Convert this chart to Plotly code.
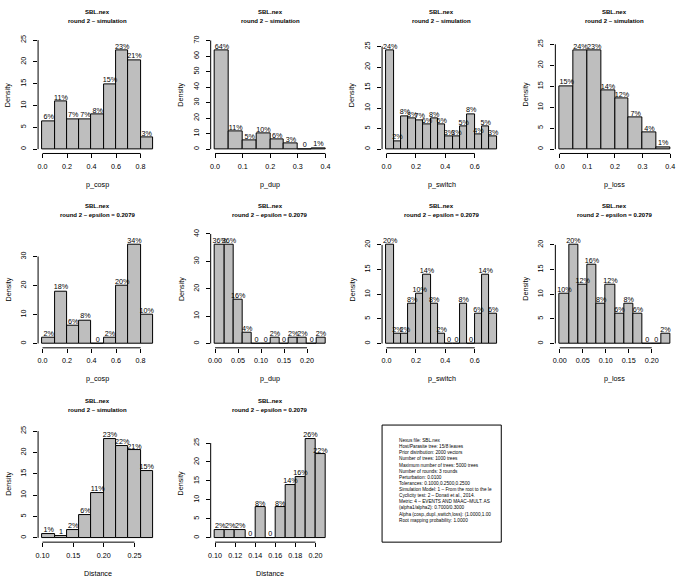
import plotly.graph_objects as go

W, H = 684, 585
FONT = "Liberation Sans, Arial, sans-serif"
bar_gray = '#BEBEBE'

# ---- data (bar heights in %, labels as printed) ----
cosp_breaks = [0.0, 0.1, 0.2, 0.3, 0.4, 0.5, 0.6, 0.7, 0.8, 0.9]
cosp_sim = [6.4, 10.9, 6.9, 6.9, 7.9, 14.9, 22.6, 20.4, 2.6]
cosp_sim_lbl = ['6%', '11%', '7%', '7%', '8%', '15%', '23%', '21%', '3%']
cosp_eps = [2, 18, 6, 8, 0, 2, 20, 34, 10]
cosp_eps_lbl = ['2%', '18%', '6%', '8%', '0', '2%', '20%', '34%', '10%']

dup_sim_breaks = [0.0, 0.05, 0.1, 0.15, 0.2, 0.25, 0.3, 0.35, 0.4]
dup_sim = [63.5, 11.3, 5.4, 10.2, 6.1, 3.4, 0, 0.6]
dup_sim_lbl = ['64%', '11%', '5%', '10%', '6%', '3%', '0', '1%']

switch_breaks = [0.0, 0.05, 0.1, 0.15, 0.2, 0.25, 0.3, 0.35, 0.4, 0.45, 0.5,
                 0.55, 0.6, 0.65, 0.7, 0.75]
switch_sim = [24, 2, 8, 7.5, 7.1, 6, 7.5, 6, 3, 3, 5.5, 8.5, 3.5, 5.5, 3]
switch_sim_lbl = ['24%', '2%', '8%', '8%', '7%', '6%', '8%', '6%', '3%', '3%',
                  '5%', '8%', '4%', '5%', '3%']
switch_eps = [20, 2, 2, 8, 10, 14, 8, 2, 0, 0, 8, 0, 6, 14, 6]
switch_eps_lbl = ['20%', '2%', '2%', '8%', '10%', '14%', '8%', '2%', '0', '0',
                  '8%', '0', '6%', '14%', '6%']

loss_sim_breaks = [0.0, 0.05, 0.1, 0.15, 0.2, 0.25, 0.3, 0.35, 0.4]
loss_sim = [15, 23.5, 23.5, 14, 12, 7.5, 4, 0.5]
loss_sim_lbl = ['15%', '24%', '23%', '14%', '12%', '7%', '4%', '1%']

eps_breaks_024 = [0.0, 0.02, 0.04, 0.06, 0.08, 0.1, 0.12, 0.14, 0.16, 0.18,
                  0.2, 0.22, 0.24]
dup_eps = [36, 36, 16, 4, 0, 0, 2, 0, 2, 2, 0, 2]
dup_eps_lbl = ['36%', '36%', '16%', '4%', '0', '0', '2%', '0', '2%', '2%', '0', '2%']
loss_eps = [10, 20, 12, 16, 8, 12, 6, 8, 6, 0, 0, 2]
loss_eps_lbl = ['10%', '20%', '12%', '16%', '8%', '12%', '6%', '8%', '6%', '0', '0', '2%']

dist_sim_breaks = [0.10, 0.12, 0.14, 0.16, 0.18, 0.20, 0.22, 0.24, 0.26, 0.28]
dist_sim = [0.9, 0.5, 1.9, 5.4, 10.5, 23.1, 21.6, 20.5, 15.7]
dist_sim_lbl = ['1%', '1', '2%', '6%', '11%', '23%', '22%', '21%', '15%']

dist_eps_breaks = [0.10, 0.11, 0.12, 0.13, 0.14, 0.15, 0.16, 0.17, 0.18, 0.19,
                   0.20, 0.21]
dist_eps = [2, 2, 2, 0, 8, 0, 8, 14, 16, 26, 22]
dist_eps_lbl = ['2%', '2%', '2%', '0', '8%', '0', '8%', '14%', '16%', '26%', '22%']

# tick labels
ticks_cosp = [0.0, 0.2, 0.4, 0.6, 0.8]
ticks_04 = [0.0, 0.1, 0.2, 0.3, 0.4]
ticks_switch = [0.0, 0.2, 0.4, 0.6]
ticks_024 = [0.00, 0.05, 0.10, 0.15, 0.20]
ticks_dist_sim = [0.10, 0.15, 0.20, 0.25]
ticks_dist_eps = [0.10, 0.12, 0.14, 0.16, 0.18, 0.20]
y_25 = [0, 5, 10, 15, 20, 25]
y_20 = [0, 5, 10, 15, 20]
y_70 = [0, 10, 20, 30, 40, 50, 60, 70]
y_30 = [0, 10, 20, 30]
y_40 = [0, 10, 20, 30, 40]

sim_title = 'round 2 \u2013 simulation'
eps_title = 'round 2 \u2013 epsilon = 0.2079'

info_lines = [
    'Nexus file: SBL.nex',
    'Host/Parasite tree: 15/8 leaves',
    'Prior distribution: 2000 vectors',
    'Number of trees: 1000 trees',
    'Maximum number of trees: 5000 trees',
    'Number of rounds: 3 rounds',
    'Perturbation: 0.0100',
    'Tolerances: 0.1000,0.2500,0.2500',
    'Simulation Model: 1 \u2013 From the root to the le',
    'Cyclicity test: 2 \u2013 Donati et al., 2014.',
    'Metric: 4 \u2013 EVENTS AND MAAC\u2013MULT. AS',
    '(alpha1/alpha2): 0.7000/0.3000',
    'Alpha (cosp.,dupl.,switch,loss): (1.0000,1.00',
    'Root mapping probability: 1.0000',
]

# (row, col, breaks, heights, labels, xticks, xfmt, yticks, xlabel, subtitle)
panels = [
    (0, 0, cosp_breaks, cosp_sim, cosp_sim_lbl, ticks_cosp, '.1f', y_25, 'p_cosp', sim_title),
    (0, 1, dup_sim_breaks, dup_sim, dup_sim_lbl, ticks_04, '.1f', y_70, 'p_dup', sim_title),
    (0, 2, switch_breaks, switch_sim, switch_sim_lbl, ticks_switch, '.1f', y_25, 'p_switch', sim_title),
    (0, 3, loss_sim_breaks, loss_sim, loss_sim_lbl, ticks_04, '.1f', y_25, 'p_loss', sim_title),
    (1, 0, cosp_breaks, cosp_eps, cosp_eps_lbl, ticks_cosp, '.1f', y_30, 'p_cosp', eps_title),
    (1, 1, eps_breaks_024, dup_eps, dup_eps_lbl, ticks_024, '.2f', y_40, 'p_dup', eps_title),
    (1, 2, switch_breaks, switch_eps, switch_eps_lbl, ticks_switch, '.1f', y_20, 'p_switch', eps_title),
    (1, 3, eps_breaks_024, loss_eps, loss_eps_lbl, ticks_024, '.2f', y_20, 'p_loss', eps_title),
    (2, 0, dist_sim_breaks, dist_sim, dist_sim_lbl, ticks_dist_sim, '.2f', y_25, 'Distance', sim_title),
    (2, 1, dist_eps_breaks, dist_eps, dist_eps_lbl, ticks_dist_eps, '.2f', y_25, 'Distance', eps_title),
]

# plot-region geometry in pixels (same margins in every cell)
col_left = [35.3, 208.9, 381.3, 555.6]
region_w = 119.9
row_top = [34.5, 229.5, 424.5]
region_h = 117.5


def px(x):
    return x / W


def py(y):
    return 1 - y / H


fig = go.Figure()
shapes = []
annotations = []
layout_axes = {}

for k, (r, c, breaks, heights, labels, xt, xfmt, yt, xlab, subtitle) in enumerate(panels, start=1):
    sx = '' if k == 1 else str(k)
    xref, yref = 'x' + sx, 'y' + sx
    centers = [(a + b) / 2 for a, b in zip(breaks[:-1], breaks[1:])]
    widths = [b - a for a, b in zip(breaks[:-1], breaks[1:])]

    fig.add_trace(go.Bar(
        x=centers, y=heights, width=widths,
        marker=dict(color=bar_gray, line=dict(color='black', width=1)),
        xaxis=xref, yaxis=yref, showlegend=False, hoverinfo='skip'))
    fig.add_trace(go.Scatter(
        x=centers, y=heights, text=labels, mode='text',
        textposition='top center', cliponaxis=False,
        textfont=dict(size=7.2, color='black', family=FONT),
        xaxis=xref, yaxis=yref, showlegend=False, hoverinfo='skip'))

    span = breaks[-1] - breaks[0]
    ylim = 1.1 * max(heights)
    left = col_left[c]
    top = row_top[r]
    layout_axes['xaxis' + sx] = dict(
        domain=[px(left), px(left + region_w)],
        range=[breaks[0] - 0.04 * span, breaks[-1] + 0.04 * span],
        anchor=yref, tickvals=xt, ticktext=[format(v, xfmt) for v in xt],
        ticks='outside', ticklen=4, tickwidth=1, tickcolor='black',
        ticklabelstandoff=2,
        showgrid=False, zeroline=False, showline=False,
        tickfont=dict(size=7.2, color='black', family=FONT))
    layout_axes['yaxis' + sx] = dict(
        domain=[py(top + region_h), py(top)],
        range=[-0.04 * ylim, 1.04 * ylim],
        anchor=xref, tickvals=yt, ticktext=[str(v) for v in yt],
        tickangle=-90,
        ticks='outside', ticklen=4, tickwidth=1, tickcolor='black',
        ticklabelstandoff=4,
        showgrid=False, zeroline=False, showline=False,
        tickfont=dict(size=7.2, color='black', family=FONT))

    # axis lines only between first and last tick, as in base graphics
    shapes.append(dict(type='line', xref=xref, yref=yref + ' domain',
                       x0=xt[0], x1=xt[-1], y0=0, y1=0,
                       line=dict(color='black', width=1)))
    shapes.append(dict(type='line', xref=xref + ' domain', yref=yref,
                       x0=0, x1=0, y0=yt[0], y1=yt[-1],
                       line=dict(color='black', width=1)))

    cx = left + region_w / 2
    annotations.append(dict(text='<b>SBL.nex</b>', x=px(cx), y=py(top - 24.5),
                            xref='paper', yref='paper', showarrow=False,
                            xanchor='center', yanchor='middle',
                            font=dict(size=6, color='black', family=FONT)))
    annotations.append(dict(text='<b>' + subtitle + '</b>', x=px(cx), y=py(top - 15.5),
                            xref='paper', yref='paper', showarrow=False,
                            xanchor='center', yanchor='middle',
                            font=dict(size=6, color='black', family=FONT)))
    annotations.append(dict(text=xlab, x=px(cx), y=py(top + region_h + 31),
                            xref='paper', yref='paper', showarrow=False,
                            xanchor='center', yanchor='middle',
                            font=dict(size=7.2, color='black', family=FONT)))
    annotations.append(dict(text='Density', x=px(left - 30), y=py(top + region_h / 2),
                            xref='paper', yref='paper', showarrow=False,
                            textangle=-90, xanchor='center', yanchor='middle',
                            font=dict(size=7.2, color='black', family=FONT)))

# info box in the third cell of the last row
box_left = col_left[2]
box_top = row_top[2]
shapes.append(dict(type='rect', xref='paper', yref='paper',
                   x0=px(box_left), x1=px(box_left + region_w),
                   y0=py(box_top + region_h), y1=py(box_top),
                   line=dict(color='black', width=1)))
for i, line in enumerate(info_lines):
    annotations.append(dict(text=line, x=px(box_left + 15.5), y=py(440 + 6.15 * i),
                            xref='paper', yref='paper', showarrow=False,
                            xanchor='left', yanchor='middle',
                            font=dict(size=4.7, color='black', family=FONT)))

fig.update_layout(
    width=W, height=H,
    margin=dict(l=0, r=0, t=0, b=0),
    plot_bgcolor='white', paper_bgcolor='white',
    bargap=0, showlegend=False,
    shapes=shapes, annotations=annotations,
    **layout_axes
)

# drop the browser's default page margin so pixels line up with the window
fig.write_html("out.html", config={'displayModeBar': False},
               post_script="document.body.style.margin='0';")
